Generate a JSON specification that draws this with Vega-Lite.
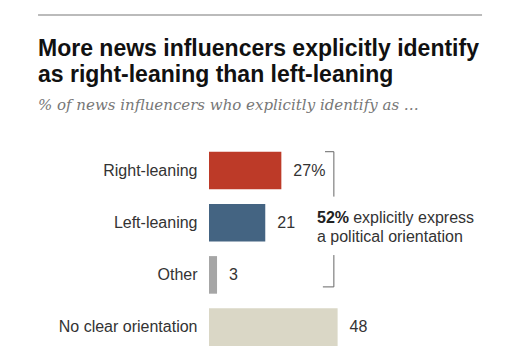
{
  "$schema": "https://vega.github.io/schema/vega-lite/v6.json",
  "autosize": "none",
  "width": 280,
  "height": 208.8,
  "padding": {"left": 209, "top": 144.4, "right": 18, "bottom": 8.8},
  "background": "white",
  "config": {"view": {"stroke": null}},
  "title": {
    "text": ["More news influencers explicitly identify", "as right-leaning than left-leaning"],
    "subtitle": "% of news influencers who explicitly identify as …",
    "anchor": "start",
    "frame": "group",
    "dx": -171,
    "offset": -99.4,
    "font": "Liberation Sans",
    "fontSize": 23,
    "fontWeight": "bold",
    "lineHeight": 26,
    "color": "#111111",
    "subtitleFont": "DejaVu Serif",
    "subtitleFontStyle": "italic",
    "subtitleFontSize": 15,
    "subtitleColor": "#777777",
    "subtitlePadding": 11
  },
  "datasets": {
    "bars": [
      {"category": "Right-leaning", "value": 27, "label": "27%"},
      {"category": "Left-leaning", "value": 21, "label": "21"},
      {"category": "Other", "value": 3, "label": "3"},
      {"category": "No clear orientation", "value": 48, "label": "48"}
    ],
    "bracket": [
      {"x": 46.6, "x2": 46.6, "y": 0.14, "y2": 1.0},
      {"x": 43.3, "x2": 46.6, "y": 0.14, "y2": 0.14},
      {"x": 46.6, "x2": 46.6, "y": 2.12, "y2": 2.73},
      {"x": 42.5, "x2": 46.6, "y": 2.73, "y2": 2.73}
    ],
    "topline": [
      {"x": -63.8, "x2": 101.9, "y": -2.479, "y2": -2.479}
    ],
    "boldnote": [
      {"x": 40.3, "y": 1.5, "text": "52%"}
    ],
    "note": [
      {"x": 53.8, "y": 1.5, "text": "explicitly express"},
      {"x": 40.3, "y": 1.864, "text": "a political orientation"}
    ]
  },
  "layer": [
    {
      "data": {"name": "bars"},
      "encoding": {
        "y": {
          "field": "category",
          "type": "nominal",
          "sort": null,
          "scale": {"paddingInner": 0.28, "paddingOuter": 0.14},
          "axis": {
            "title": null,
            "domain": false,
            "ticks": false,
            "labelPadding": 12,
            "labelFont": "Liberation Sans",
            "labelFontSize": 16,
            "labelColor": "#333333"
          }
        },
        "x": {
          "field": "value",
          "type": "quantitative",
          "scale": {"domain": [0, 104.5], "nice": false},
          "axis": null
        }
      },
      "layer": [
        {
          "mark": {"type": "bar"},
          "encoding": {
            "color": {
              "field": "category",
              "type": "nominal",
              "scale": {
                "domain": ["Right-leaning", "Left-leaning", "Other", "No clear orientation"],
                "range": ["#bd3a28", "#446482", "#a6a6a6", "#dad7c6"]
              },
              "legend": null
            }
          }
        },
        {
          "mark": {"type": "text", "align": "left", "baseline": "middle", "dx": 12, "font": "Liberation Sans", "fontSize": 16, "color": "#333333"},
          "encoding": {"text": {"field": "label"}}
        }
      ]
    },
    {
      "layer": [
        {
          "data": {"name": "bracket"},
          "mark": {"type": "rule", "color": "#666666", "strokeWidth": 1},
          "encoding": {
            "x": {"field": "x", "type": "quantitative"},
            "x2": {"field": "x2"},
            "y": {"field": "y", "type": "quantitative", "scale": {"domain": [0, 4], "reverse": true, "nice": false, "zero": false}, "axis": null},
            "y2": {"field": "y2"}
          }
        },
        {
          "data": {"name": "topline"},
          "mark": {"type": "rule", "color": "#bbbbbb", "strokeWidth": 2},
          "encoding": {
            "x": {"field": "x", "type": "quantitative"},
            "x2": {"field": "x2"},
            "y": {"field": "y", "type": "quantitative", "axis": null},
            "y2": {"field": "y2"}
          }
        },
        {
          "data": {"name": "boldnote"},
          "mark": {"type": "text", "align": "left", "baseline": "alphabetic", "font": "Liberation Sans", "fontSize": 16, "fontWeight": "bold", "color": "#222222"},
          "encoding": {
            "x": {"field": "x", "type": "quantitative"},
            "y": {"field": "y", "type": "quantitative", "axis": null},
            "text": {"field": "text"}
          }
        },
        {
          "data": {"name": "note"},
          "mark": {"type": "text", "align": "left", "baseline": "alphabetic", "font": "Liberation Sans", "fontSize": 16, "color": "#333333"},
          "encoding": {
            "x": {"field": "x", "type": "quantitative"},
            "y": {"field": "y", "type": "quantitative", "axis": null},
            "text": {"field": "text"}
          }
        }
      ]
    }
  ],
  "resolve": {"scale": {"y": "independent"}}
}
